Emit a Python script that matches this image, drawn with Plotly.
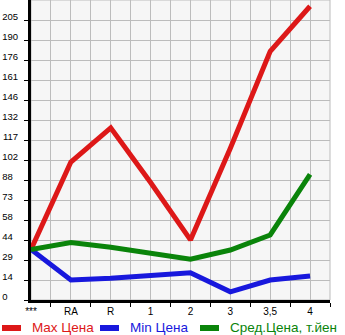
import plotly.graph_objects as go

categories = ["***", "RA", "R", "1", "2", "3", "3,5", "4"]
max_vals = [37, 101, 126, 86, 44, 111, 182, 215]
min_vals = [37, 14.6, 15.9, 17.6, 20, 6, 14.6, 17.6]
avg_vals = [37, 42, 38.6, 34.2, 29.8, 36.6, 47.6, 92]
y_tick_labels = ["0", "14", "29", "44", "58", "73", "88", "102", "117", "132",
                 "146", "161", "176", "190", "205"]
y_step = 14.64
series_names = ["Max Цена", "Min Цена", "Сред.Цена, т.йен"]
series_colors = ["#dd1818", "#1818dd", "#0a840a"]

x_idx = list(range(len(categories)))
y_ticks = [i * y_step for i in range(len(y_tick_labels))]
y_top = y_step * len(y_tick_labels)
FS = "\u2007"
y_text = [t + FS * (3 - len(t)) for t in y_tick_labels]

fig = go.Figure()
for name, vals, col in zip(series_names, [max_vals, min_vals, avg_vals], series_colors):
    fig.add_trace(go.Scatter(x=x_idx, y=vals, mode="lines", name=name,
                             line=dict(color=col, width=5), showlegend=False))

fig.update_layout(
    width=345, height=335,
    margin=dict(l=31, r=15, t=0, b=35),
    paper_bgcolor="white",
    plot_bgcolor="#f6f6f6",
    font=dict(family="Liberation Sans, Arial, sans-serif", size=10, color="black"),
)
fig.update_xaxes(
    range=[0, len(categories) - 0.5],
    tickvals=x_idx, ticktext=categories,
    ticks="", showgrid=True, gridcolor="#bcbcbc", gridwidth=1,
    minor=dict(tickvals=[i + 0.5 for i in x_idx], ticks="outside", ticklen=4,
               tickcolor="black", showgrid=True, gridcolor="#bcbcbc", gridwidth=1),
    showline=True, linecolor="black", linewidth=3,
    zeroline=False, tickfont=dict(size=10), automargin=False,
)
fig.update_yaxes(
    range=[0, y_top],
    tickvals=y_ticks, ticktext=y_text,
    ticks="outside", ticklen=4, tickcolor="black",
    showgrid=True, gridcolor="#bcbcbc", gridwidth=1,
    showline=True, linecolor="black", linewidth=3,
    zeroline=False, automargin=False,
    tickfont=dict(size=9.5),
    ticklabelstandoff=4, ticklabelshift=-3,
)
# grey frame on top / right
fig.add_shape(type="rect", xref="paper", yref="paper", x0=0, x1=1, y0=0, y1=1,
              line=dict(color="#bcbcbc", width=1), layer="below")

# legend
leg_x = [0, 98, 198]
for name, col, x0 in zip(series_names, series_colors, leg_x):
    fig.add_shape(type="line", xref="paper", yref="paper",
                  x0=(x0 + 2 - 31) / 299, x1=(x0 + 21 - 31) / 299,
                  y0=-28 / 300, y1=-28 / 300,
                  line=dict(color=col, width=6))
    fig.add_annotation(text=name, xref="paper", yref="paper",
                       x=(x0 + 30 - 31) / 299, y=-27 / 300,
                       xanchor="left", yanchor="middle", showarrow=False,
                       font=dict(size=13.5, color=col))

fig.write_html("out.html")
